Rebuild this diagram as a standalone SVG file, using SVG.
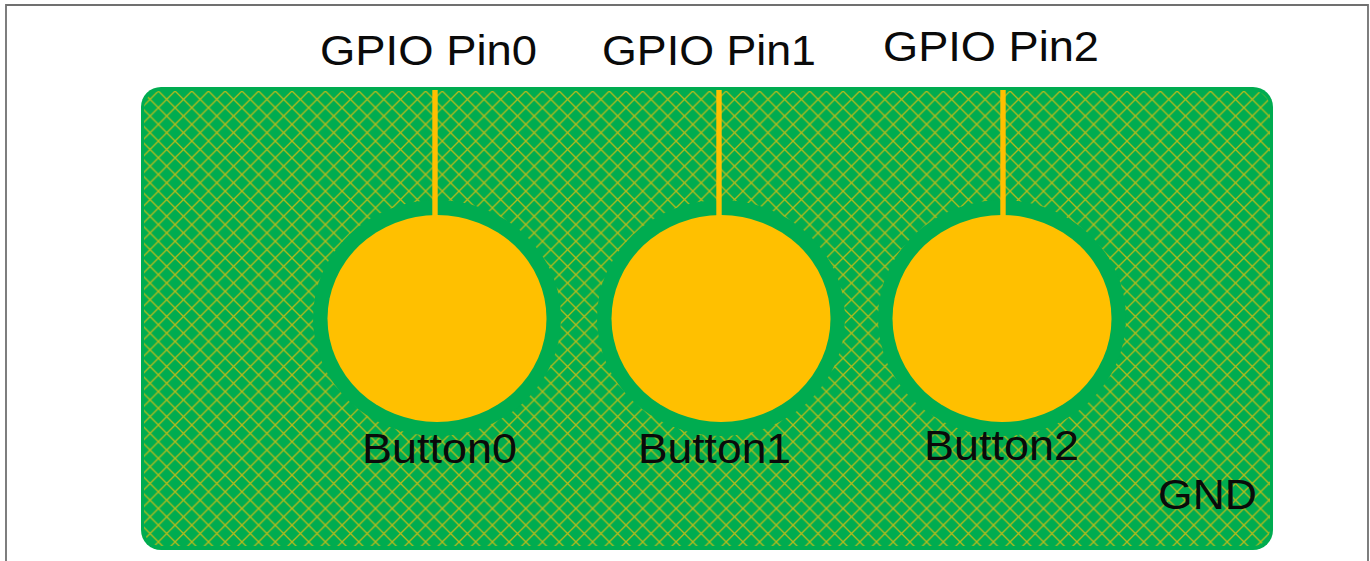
<svg xmlns="http://www.w3.org/2000/svg" width="1370" height="561" viewBox="0 0 1370 561">
<style>
.lbl{font-family:"Liberation Sans",Arial,sans-serif;font-size:43px;fill:#0a0a0a}
.pad{fill:#ffc000}
.ring{fill:#00ac50}
.trace{stroke:#ffc000;stroke-width:5.4;fill:none}
.hatch{stroke:#b4ba1c;stroke-width:1.35;fill:none}
</style>
<defs>
<pattern id="mesh" patternUnits="userSpaceOnUse" x="158.4" y="91" width="16.7" height="16.7">
<rect width="16.7" height="16.7" fill="#00ac50"/>
<path class="hatch" d="M-1 -1L17.7 17.7M-1 17.7L17.7 -1"/>
</pattern>
</defs>
<rect width="1370" height="561" fill="#fff"/>
<path d="M6 561V5H1368V561" fill="none" stroke="#707070" stroke-width="1.8"/>
<g id="gnd">
<rect x="141" y="87" width="1132" height="463" rx="20" ry="20" fill="#00ac50"/>
<rect x="144" y="91" width="1126" height="455" rx="17" ry="17" fill="url(#mesh)"/>
<text class="lbl" x="1158" y="509" textLength="99" lengthAdjust="spacingAndGlyphs">GND</text>
</g>
<g id="button0">
<ellipse class="ring" cx="437" cy="318" rx="124" ry="118"/>
<ellipse class="pad" cx="437" cy="318.500" rx="109.500" ry="103.500"/>
<text class="lbl" x="362" y="463" textLength="155" lengthAdjust="spacingAndGlyphs">Button0</text>
</g>
<g id="button1">
<ellipse class="ring" cx="721" cy="318" rx="124" ry="118"/>
<ellipse class="pad" cx="721" cy="318.500" rx="109.500" ry="103.500"/>
<text class="lbl" x="638" y="463" textLength="153" lengthAdjust="spacingAndGlyphs">Button1</text>
</g>
<g id="button2">
<ellipse class="ring" cx="1002" cy="318" rx="124" ry="118"/>
<ellipse class="pad" cx="1002" cy="318.500" rx="109.500" ry="103.500"/>
<text class="lbl" x="924" y="460" textLength="155" lengthAdjust="spacingAndGlyphs">Button2</text>
</g>
<g id="connectors">
<path class="trace" d="M435 90V218"/>
<path class="trace" d="M719 90V218"/>
<path class="trace" d="M1003 90V218"/>
</g>
<g id="pins">
<text class="lbl" x="320" y="65" textLength="217" lengthAdjust="spacingAndGlyphs">GPIO Pin0</text>
<text class="lbl" x="602" y="65" textLength="214" lengthAdjust="spacingAndGlyphs">GPIO Pin1</text>
<text class="lbl" x="883" y="61" textLength="216" lengthAdjust="spacingAndGlyphs">GPIO Pin2</text>
</g>
</svg>
